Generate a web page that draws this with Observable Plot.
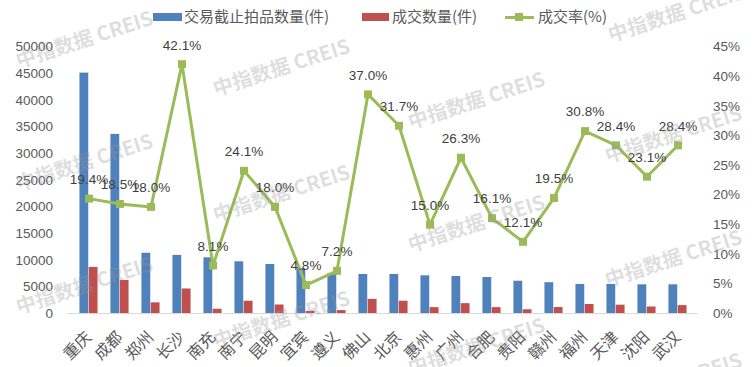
<!DOCTYPE html>
<html><head><meta charset="utf-8">
<script src="https://cdn.jsdelivr.net/npm/d3@7"></script>
<script src="https://cdn.jsdelivr.net/npm/@observablehq/plot@0.6"></script>
<style>
body{margin:0;background:#fff;}
#wrap{position:relative;width:755px;height:367px;overflow:hidden;font-family:"Noto Sans CJK SC",sans-serif;background:#fff;}
#chart{position:absolute;left:0;top:0;}
.sw{position:absolute;}
.lt{position:absolute;top:7px;font-size:15px;line-height:18px;color:#595959;white-space:nowrap;font-family:"Noto Sans CJK SC",sans-serif;}
.wm{position:absolute;font-family:"Noto Sans CJK SC","Liberation Sans",sans-serif;font-weight:bold;font-size:20px;color:rgba(150,150,150,0.33);white-space:nowrap;transform:translate(-50%,-50%) rotate(-18deg);pointer-events:none;}
</style>
</head><body>
<div id="wrap">
  <div id="chart"></div>
  <div class="sw" style="left:153px;top:13px;width:29px;height:8px;background:#4f81bd"></div>
  <div class="lt" style="left:184px">交易截止拍品数量(件)</div>
  <div class="sw" style="left:362px;top:13px;width:27px;height:8px;background:#c0504d"></div>
  <div class="lt" style="left:392px">成交数量(件)</div>
  <div class="sw" style="left:505px;top:15.5px;width:29px;height:3px;background:#9bbb59"></div>
  <div class="sw" style="left:515px;top:13px;width:8px;height:8px;background:#9bbb59"></div>
  <div class="lt" style="left:538px">成交率(%)</div>
  <div id="wms"></div>
</div>
<script>
const cities = ["重庆","成都","郑州","长沙","南充","南宁","昆明","宜宾","遵义","佛山","北京","惠州","广州","合肥","贵阳","赣州","福州","天津","沈阳","武汉"];
const listed = [45100,33600,11300,10900,10450,9700,9190,8400,7500,7320,7320,7070,6940,6750,6060,5780,5450,5450,5380,5380];
const deals  = [8650,6200,2000,4600,800,2300,1600,400,550,2650,2300,1100,1850,1100,700,1120,1690,1560,1220,1480];
const rates  = [19.4,18.5,18.0,42.1,8.1,24.1,18.0,4.8,7.2,37.0,31.7,15.0,26.3,16.1,12.1,19.5,30.8,28.4,23.1,28.4];
const leftTicks = [0,5000,10000,15000,20000,25000,30000,35000,40000,45000,50000];
const rightTicks = [0,5,10,15,20,25,30,35,40,45];

const rows = cities.map((c,i)=>({city:c, listed:listed[i], deals:deals[i], rate:rates[i]}));
const K = 50000/45;

const chart = Plot.plot({
  width:755, height:367,
  marginLeft:67.5, marginRight:57.5, marginTop:46.5, marginBottom:54,
  style:{fontFamily:"'Liberation Sans', Arial, sans-serif", fontSize:"13.5px", color:"#595959", background:"transparent"},
  x:{domain:cities, padding:0, label:null},
  y:{domain:[0,50000], label:null},
  marks:[
    Plot.axisY({ticks:leftTicks, tickSize:0, tickPadding:15, tickFormat:d=>String(d), label:null, fill:"#595959"}),
    Plot.axisY({anchor:"right", ticks:rightTicks.map(p=>p*K), tickSize:0, tickPadding:15, tickFormat:d=>Math.round(d/K)+"%", label:null, fill:"#595959"}),
    Plot.axisX({tickRotate:-45, tickSize:0, tickPadding:21, fontSize:16, fontFamily:"'Noto Sans CJK SC', sans-serif", label:null, fill:"#595959"}),
    Plot.barY(rows,{x:"city", y:"listed", fill:"#4f81bd", insetLeft:6.45, insetRight:15.75}),
    Plot.barY(rows,{x:"city", y:"deals", fill:"#c0504d", insetLeft:15.75, insetRight:6.45}),
    Plot.ruleY([0],{stroke:"#d9d9d9", strokeWidth:1.2}),
    Plot.line(rows,{x:"city", y:d=>d.rate*K, stroke:"#9bbb59", strokeWidth:3}),
    Plot.dot(rows,{x:"city", y:d=>d.rate*K, symbol:"square", r:4.5, fill:"#9bbb59", stroke:"none"}),
    Plot.text(rows,{x:"city", y:d=>d.rate*K, text:d=>d.rate.toFixed(1)+"%", dy:-19, fill:"#404040", fontSize:13.5})
  ]
});
document.getElementById("chart").appendChild(chart);

const wmPos = [[84,38],[84,161],[84,284],[281,66],[281,192],[281,318],[476,99],[476,222],[476,345],[676,12],[673,133],[673,257],[673,380]];
const wms = document.getElementById("wms");
wmPos.forEach(([x,y])=>{
  const d=document.createElement("div");
  d.className="wm"; d.style.left=x+"px"; d.style.top=y+"px";
  d.textContent="中指数据 CREIS";
  wms.appendChild(d);
});
</script>
</body></html>
